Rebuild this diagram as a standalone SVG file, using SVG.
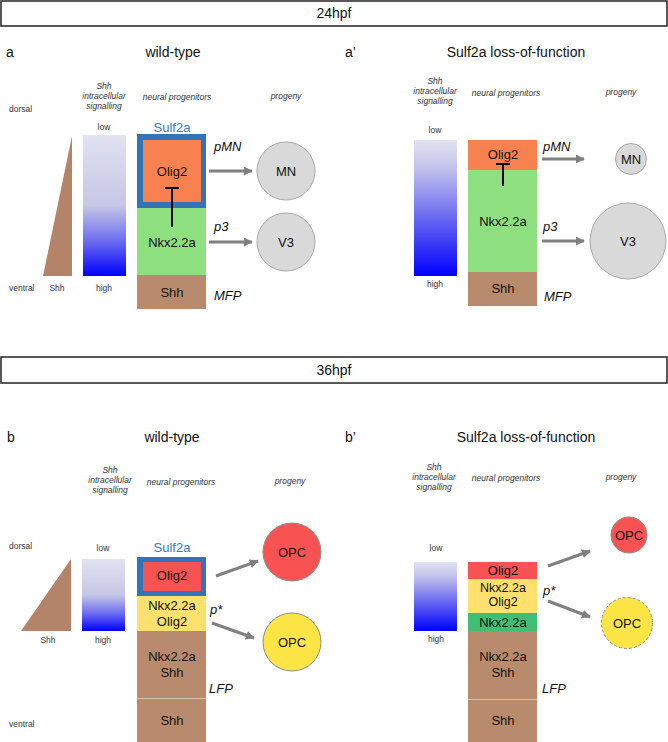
<svg xmlns="http://www.w3.org/2000/svg" width="668" height="742" viewBox="0 0 668 742">
<defs>
<linearGradient id="gWT" x1="0" y1="0" x2="0" y2="1">
<stop offset="0" stop-color="#e2e2f1"/>
<stop offset="0.5" stop-color="#c6c6e6"/>
<stop offset="0.75" stop-color="#6e6ef0"/>
<stop offset="1" stop-color="#0000ff"/>
</linearGradient>
<linearGradient id="gLOF" x1="0" y1="0" x2="0" y2="1">
<stop offset="0" stop-color="#e2e2f1"/>
<stop offset="0.2" stop-color="#c4c4ec"/>
<stop offset="0.6" stop-color="#6262f2"/>
<stop offset="1" stop-color="#0000ff"/>
</linearGradient>
<marker id="ah" viewBox="0 0 10 10" refX="9" refY="5" markerWidth="3" markerHeight="3" orient="auto" markerUnits="strokeWidth">
<path d="M0,0 L10,5 L0,10 z" fill="#808080"/>
</marker>
<style>
text{font-family:"Liberation Sans",Arial,sans-serif;}
.hdr{font-size:14px;fill:#111;text-anchor:middle;}
.ttl{font-size:14px;fill:#111;}
.sm{font-size:8.5px;fill:#333;}
.smi{font-size:8.5px;fill:#333;font-style:italic;text-anchor:middle;}
.mid{text-anchor:middle;}
.lab{font-size:13px;fill:#111;text-anchor:middle;}
.labs{font-size:12.5px;fill:#111;text-anchor:middle;}
.it{font-size:13px;fill:#111;font-style:italic;}
.sulf{font-size:13px;fill:#3a7cc0;text-anchor:middle;}
.box{fill:none;stroke:#222;stroke-width:1.5;}
.arr{stroke:#808080;stroke-width:3;fill:none;marker-end:url(#ah);}
.inh{stroke:#000;stroke-width:2;fill:none;}
.gcirc{fill:#d9d9d9;stroke:#a8a8a8;stroke-width:1;}
.orange{fill:#f7824f;}
.green{fill:#8ddf80;}
.brown{fill:#b98b6e;}
.blue{fill:#3573b8;}
.red{fill:#f95252;}
.yel{fill:#fde06e;}
.teal{fill:#3ebf74;}
.tri{fill:#b3836a;}
.sep{stroke:#d7c0b0;stroke-width:1;}
</style>
</defs>

<!-- headers -->
<g id="hdr24">
<rect class="box" x="1" y="1" width="666" height="25"/>
<text class="hdr" x="334" y="18">24hpf</text>
</g>
<g id="hdr36">
<rect class="box" x="1" y="357" width="666" height="26"/>
<text class="hdr" x="334" y="375">36hpf</text>
</g>

<!-- Panel a -->
<g id="panel-a-labels">
<text class="ttl" x="6" y="57">a</text>
<text class="ttl mid" x="173" y="57">wild-type</text>
<text class="smi" x="104" y="89">Shh</text>
<text class="smi" x="104" y="99">intracellular</text>
<text class="smi" x="104" y="109">signalling</text>
<text class="smi" x="177" y="100">neural progenitors</text>
<text class="smi" x="286" y="99">progeny</text>
<text class="sm" x="9" y="112">dorsal</text>
<text class="sm mid" x="104" y="130">low</text>
<text class="sm" x="9" y="291">ventral</text>
<text class="sm mid" x="57" y="291">Shh</text>
<text class="sm mid" x="104" y="291">high</text>
</g>
<g id="a-shh-triangle"><polygon class="tri" points="43,276 72,136 72,276"/></g>
<g id="a-gradient"><rect x="83" y="135" width="43" height="141" fill="url(#gWT)"/></g>
<g id="a-sulf2a">
<text class="sulf" x="172" y="132">Sulf2a</text>
<rect class="blue" x="137" y="134" width="69" height="74"/>
</g>
<g id="a-olig2">
<rect class="orange" x="143" y="140" width="58" height="62"/>
<text class="lab" x="172" y="176">Olig2</text>
</g>
<g id="a-nkx"><rect class="green" x="137" y="208" width="69" height="67"/>
<text class="lab" x="172" y="247">Nkx2.2a</text></g>
<g id="a-shh"><rect class="brown" x="137" y="275" width="69" height="34"/>
<text class="lab" x="172" y="297">Shh</text></g>
<g id="a-domains">
<text class="it" x="214" y="151">pMN</text>
<text class="it" x="214" y="231">p3</text>
<text class="it" x="214" y="300">MFP</text>
</g>
<g id="a-MN"><circle class="gcirc" cx="286" cy="171" r="29"/><text class="lab" x="286" y="176">MN</text></g>
<g id="a-V3"><circle class="gcirc" cx="286" cy="242" r="29"/><text class="lab" x="286" y="247">V3</text></g>

<!-- Panel a' -->
<g id="panel-a2-labels">
<text class="ttl" x="345" y="57">a’</text>
<text class="ttl mid" x="516" y="57">Sulf2a loss-of-function</text>
<text class="smi" x="435" y="84">Shh</text>
<text class="smi" x="435" y="94">intracellular</text>
<text class="smi" x="435" y="104">signalling</text>
<text class="smi" x="506" y="96">neural progenitors</text>
<text class="smi" x="621" y="95">progeny</text>
<text class="sm mid" x="435" y="133">low</text>
<text class="sm mid" x="435" y="287">high</text>
</g>
<g id="a2-gradient"><rect x="414" y="140" width="43" height="136" fill="url(#gLOF)"/></g>
<g id="a2-olig2"><rect class="orange" x="468" y="140" width="69" height="30"/>
<text class="lab" x="503" y="159">Olig2</text></g>
<g id="a2-nkx"><rect class="green" x="468" y="170" width="69" height="102"/>
<text class="lab" x="503" y="226">Nkx2.2a</text></g>
<g id="a2-shh"><rect class="brown" x="468" y="272" width="69" height="34"/>
<text class="lab" x="503" y="293">Shh</text></g>
<g id="a2-domains">
<text class="it" x="543" y="151">pMN</text>
<text class="it" x="543" y="231">p3</text>
<text class="it" x="544" y="301">MFP</text>
</g>
<g id="a2-MN"><circle class="gcirc" cx="631" cy="159" r="15.5"/><text class="lab" x="631" y="164">MN</text></g>
<g id="a2-V3"><circle class="gcirc" cx="628" cy="241" r="38"/><text class="lab" x="628" y="246">V3</text></g>

<!-- Panel b -->
<g id="panel-b-labels">
<text class="ttl" x="7" y="442">b</text>
<text class="ttl mid" x="172" y="442">wild-type</text>
<text class="smi" x="110" y="473">Shh</text>
<text class="smi" x="110" y="483">intracellular</text>
<text class="smi" x="110" y="493">signalling</text>
<text class="smi" x="181" y="485">neural progenitors</text>
<text class="smi" x="290" y="484">progeny</text>
<text class="sm" x="9" y="549">dorsal</text>
<text class="sm mid" x="103" y="551">low</text>
<text class="sm mid" x="48" y="643">Shh</text>
<text class="sm mid" x="103" y="643">high</text>
<text class="sm" x="9" y="727">ventral</text>
</g>
<g id="b-shh-triangle"><polygon class="tri" points="21,631 71,559 71,631"/></g>
<g id="b-gradient"><rect x="82" y="559" width="43" height="72" fill="url(#gWT)"/></g>
<g id="b-sulf2a">
<text class="sulf" x="172" y="552">Sulf2a</text>
<rect class="blue" x="137" y="557" width="69" height="39"/>
</g>
<g id="b-olig2"><rect class="red" x="143" y="562" width="58" height="29"/>
<text class="lab" x="172" y="580">Olig2</text></g>
<g id="b-nkx-olig2"><rect class="yel" x="137" y="596" width="69" height="35"/>
<text class="lab" x="172" y="610">Nkx2.2a</text>
<text class="lab" x="172" y="626">Olig2</text></g>
<g id="b-nkx-shh"><rect class="brown" x="137" y="631" width="69" height="67"/>
<text class="lab" x="172" y="661">Nkx2.2a</text>
<text class="lab" x="172" y="677">Shh</text></g>
<g id="b-shh"><rect class="brown" x="137" y="698" width="69" height="44"/>
<line class="sep" x1="137" y1="698.5" x2="206" y2="698.5"/>
<text class="lab" x="172" y="725">Shh</text></g>
<g id="b-domains">
<text class="it" x="210" y="614">p*</text>
<text class="it" x="209" y="693">LFP</text>
</g>
<g id="b-OPC-red"><circle cx="292" cy="552" r="29" fill="#f95252" stroke="#8c8c8c" stroke-width="1"/><text class="lab" x="292" y="557">OPC</text></g>
<g id="b-OPC-yellow"><circle cx="292" cy="642" r="29" fill="#fde545" stroke="#8c8c8c" stroke-width="1"/><text class="lab" x="292" y="647">OPC</text></g>

<!-- Panel b' -->
<g id="panel-b2-labels">
<text class="ttl" x="345" y="442">b’</text>
<text class="ttl mid" x="526" y="442">Sulf2a loss-of-function</text>
<text class="smi" x="434" y="470">Shh</text>
<text class="smi" x="434" y="480">intracellular</text>
<text class="smi" x="434" y="490">signalling</text>
<text class="smi" x="506" y="481">neural progenitors</text>
<text class="smi" x="621" y="480">progeny</text>
<text class="sm mid" x="436" y="551">low</text>
<text class="sm mid" x="436" y="642">high</text>
</g>
<g id="b2-gradient"><rect x="414" y="562" width="43" height="69" fill="url(#gLOF)"/></g>
<g id="b2-olig2"><rect class="red" x="468" y="562" width="69" height="17"/>
<text class="lab" x="503" y="575">Olig2</text></g>
<g id="b2-nkx-olig2"><rect class="yel" x="468" y="579" width="69" height="34"/>
<text class="labs" x="503" y="591.5">Nkx2.2a</text>
<text class="labs" x="503" y="606">Olig2</text></g>
<g id="b2-nkx"><rect class="teal" x="468" y="613" width="69" height="18"/>
<text class="lab" x="503" y="627">Nkx2.2a</text></g>
<g id="b2-nkx-shh"><rect class="brown" x="468" y="631" width="69" height="68"/>
<text class="lab" x="503" y="661">Nkx2.2a</text>
<text class="lab" x="503" y="677">Shh</text></g>
<g id="b2-shh"><rect class="brown" x="468" y="699" width="69" height="43"/>
<line class="sep" x1="468" y1="699.5" x2="537" y2="699.5"/>
<text class="lab" x="503" y="725">Shh</text></g>
<g id="b2-domains">
<text class="it" x="543" y="595">p*</text>
<text class="it" x="542" y="693">LFP</text>
</g>
<g id="b2-OPC-red"><circle cx="629" cy="535" r="18" fill="#f95252" stroke="#8c8c8c" stroke-width="1"/><text class="lab" x="629" y="540">OPC</text></g>
<g id="b2-OPC-yellow"><circle cx="627" cy="623" r="25.5" fill="#fde545" stroke="#8c8c8c" stroke-width="1" stroke-dasharray="3,2"/><text class="lab" x="627" y="628">OPC</text></g>

<!-- connectors -->
<g id="connectors">
<path class="inh" d="M172,227 V188 M165,188 H179"/>
<path class="inh" d="M503,186 V164 M496,164 H510"/>
<line class="arr" x1="209" y1="171" x2="252" y2="171"/>
<line class="arr" x1="209" y1="242" x2="252" y2="242"/>
<line class="arr" x1="542" y1="159" x2="584" y2="159"/>
<line class="arr" x1="542" y1="241" x2="584" y2="241"/>
<line class="arr" x1="216" y1="576" x2="258" y2="561"/>
<line class="arr" x1="212" y1="623" x2="254" y2="638"/>
<line class="arr" x1="548" y1="566" x2="590" y2="551"/>
<line class="arr" x1="548" y1="601" x2="590" y2="617"/>
</g>
</svg>
